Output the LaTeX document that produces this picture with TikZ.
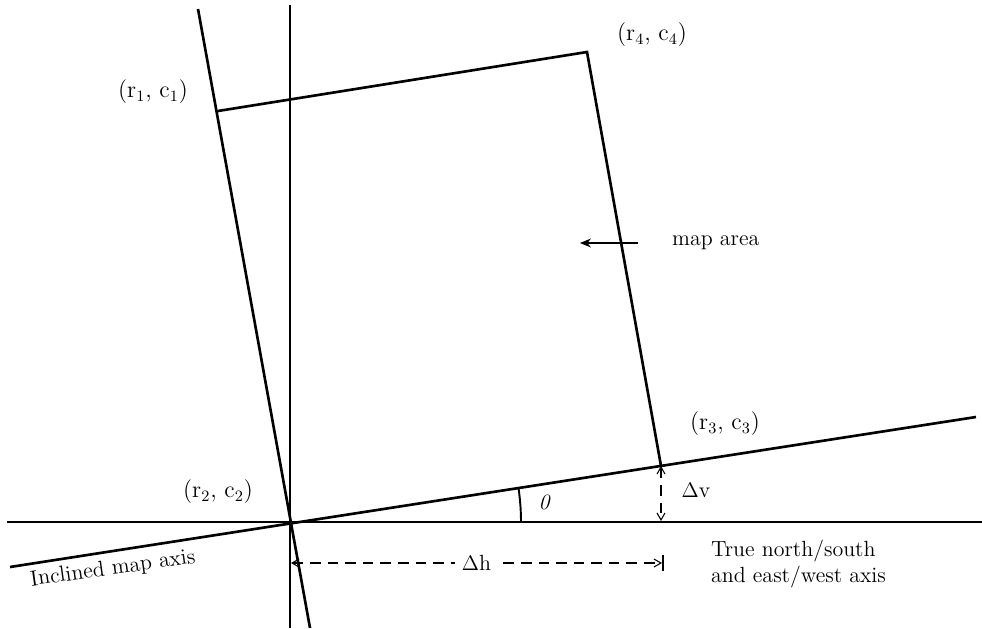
\documentclass[tikz,border=0pt]{standalone}
\usepackage{amsmath}
\usetikzlibrary{positioning,arrows.meta,calc}
\tikzset{
  fig/axis/.style ={line width=1.5pt, black},
  fig/edge/.style ={line width=1.5pt, black},
  fig/dim/.style  ={semithick, dash pattern=on 6pt off 4pt,
                    {Straight Barb[length=1.4mm, width=1.6mm]}-{Straight Barb[length=1.4mm, width=1.6mm]}},
  fig/ptr/.style  ={semithick, -{Stealth[length=2.2mm, width=1.8mm]}},
  fig/lbl/.style  ={font=\fontsize{12.5}{15}\selectfont, inner sep=1pt},
  fig/corner/.style={font=\fontsize{13.5}{16}\selectfont, inner sep=1pt},
  fig/tick/.style ={semithick}
}

\begin{document}
\begin{tikzpicture}[x=0.02cm, y=-0.02cm]
    \useasboundingbox (0,0) rectangle (982,628);
    % corners of the map area (pixel grid of the figure)
    \coordinate (r2) at (290,522);
    \coordinate (r1) at (218,111);
    \coordinate (r4) at (587,52);
    \coordinate (r3) at (661,466);
    % axis ends
    \coordinate (vTop) at (290,5);    \coordinate (vBot) at (290,628);
    \coordinate (hLft) at (7,522);    \coordinate (hRgt) at (982,522);
    \coordinate (iLft) at (10,567);   \coordinate (iRgt) at (976,417);
    \coordinate (jTop) at (198,9);    \coordinate (jBot) at (310,628);

    % true axes
    \draw[fig/axis] (vTop) -- (vBot);
    \draw[fig/axis] (hLft) -- (hRgt);
    % inclined map axes
    \draw[fig/axis] (iLft) -- (iRgt);
    \draw[fig/axis] (jTop) -- (jBot);
    % map area outline
    \draw[fig/edge] (r1) -- (r4) -- (r3);

    % corner labels
    \node[fig/corner] (lr1) at (153,92)  {(r$_1$, c$_1$)};
    \node[fig/corner] (lr4) at (652,35)  {(r$_4$, c$_4$)};
    \node[fig/corner] (lr3) at (725,424) {(r$_3$, c$_3$)};
    \node[fig/corner] (lr2) at (218,492) {(r$_2$, c$_2$)};

    % map area pointer
    \node[fig/lbl, anchor=west] (maparea) at (670,243) {map area};
    \coordinate (pS) at (638,243);
    \coordinate (pE) at (580,243);
    \draw[fig/ptr] (pS) -- (pE);

    % angle
    \draw[line width=1.1pt] plot[domain=0:8.7, samples=12]
         ({290+231*cos(\x)}, {522-231*sin(\x)});
    \node[fig/lbl, font=\fontsize{12.5}{15}\selectfont\itshape] (theta) at (544,502) {0};

    % vertical offset
    \coordinate (vFoot) at (661,521);
    \draw[fig/dim] (r3) -- (vFoot);
    \node[fig/lbl] (dv) at (696,490) {$\Delta$v};

    % horizontal offset
    \coordinate (hL) at (291,563);
    \coordinate (hR) at (662,563);
    \draw[fig/dim] (hL) -- node[fig/lbl, fill=white, inner sep=4pt] (dh) {$\Delta$h} (hR);
    \draw[fig/tick] ($(hR)+(1,-8)$) -- ($(hR)+(1,8)$);

    % axis captions
    \node[fig/lbl, rotate=8] (incl) at (113,569) {Inclined map axis};
    \node[fig/lbl, anchor=north west, align=left] (trueax) at (709,538)
         {True north/south\\ and east/west axis};
  \end{tikzpicture}
\end{document}
